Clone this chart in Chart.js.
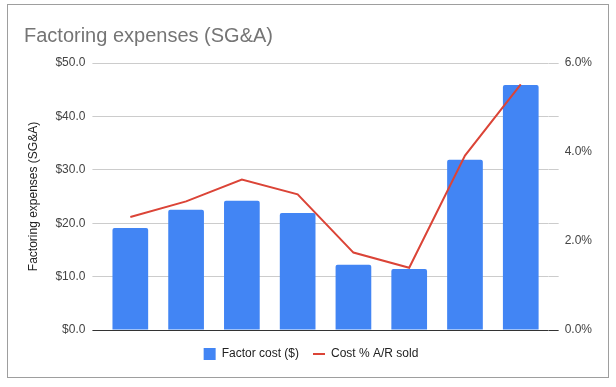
<!doctype html>
<html>

<head>
    <title>Factoring expenses (SG&amp;A)</title>
    <script src="https://cdn.jsdelivr.net/npm/chart.js@4/dist/chart.umd.min.js"></script>
    <style>
    body {
        margin: 0;
        background: #fff;
    }
    #wrap {
        position: relative;
        width: 616px;
        height: 387px;
    }
    #frame {
        position: absolute;
        left: 7px;
        top: 4px;
        width: 602px;
        height: 374px;
        box-sizing: border-box;
        border: 1px solid #9e9e9e;
        pointer-events: none;
    }
    </style>
</head>

<body>
    <div id="wrap">
        <canvas id="canvas" width="616" height="387"></canvas>
        <div id="frame"></div>
    </div>
    <script>
    // x labels are hidden in the chart
    var periods = ['P1', 'P2', 'P3', 'P4', 'P5', 'P6', 'P7', 'P8'];
    var factorCost = [19.1, 22.5, 24.2, 21.9, 12.2, 11.4, 31.9, 45.9];
    var costPctSold = [2.54, 2.89, 3.38, 3.05, 1.74, 1.40, 3.92, 5.52];
    var dollarTicks = [0, 10, 20, 30, 40, 50];
    var pctTicks = [0, 2, 4, 6];

    Chart.defaults.font.family = 'Arial, "Liberation Sans", sans-serif';

    var gridColor = function(ctx) {
        return ctx.tick && ctx.tick.value === 0 ? '#333333' : '#cccccc';
    };
    var setTicks = function(list) {
        return function(axis) {
            axis.ticks = list.map(function(v) { return {value: v}; });
        };
    };

    var config = {
        type: 'bar',
        data: {
            labels: periods,
            datasets: [{
                type: 'bar',
                label: 'Factor cost ($)',
                data: factorCost,
                yAxisID: 'y',
                order: 1,
                backgroundColor: '#4285f4',
                borderWidth: 0,
                borderRadius: {topLeft: 2, topRight: 2},
                borderSkipped: 'bottom',
                barPercentage: 0.64,
                categoryPercentage: 1,
                pointStyle: 'rect'
            }, {
                type: 'line',
                label: 'Cost % A/R sold',
                data: costPctSold,
                yAxisID: 'y1',
                order: 0,
                borderColor: '#db4437',
                backgroundColor: '#db4437',
                borderWidth: 2,
                pointRadius: 0,
                tension: 0,
                fill: false,
                pointStyle: 'line'
            }]
        },
        options: {
            responsive: false,
            animation: false,
            layout: {
                padding: {left: 24, right: 18, top: 11, bottom: 17}
            },
            plugins: {
                title: {
                    display: true,
                    text: 'Factoring expenses (SG&A)',
                    align: 'start',
                    color: '#757575',
                    font: {size: 20, weight: 'normal'},
                    padding: {top: 13, bottom: 15}
                },
                legend: {
                    position: 'bottom',
                    labels: {
                        usePointStyle: true,
                        pointStyleWidth: 12,
                        boxHeight: 12,
                        color: '#222222',
                        font: {size: 12},
                        padding: 14,
                        sort: function(a, b) { return a.datasetIndex - b.datasetIndex; }
                    }
                },
                tooltip: {enabled: false}
            },
            scales: {
                x: {
                    grid: {display: false, drawTicks: false},
                    border: {display: false},
                    ticks: {display: false},
                    afterFit: function(axis) { axis.height += 4; }
                },
                y: {
                    position: 'left',
                    min: dollarTicks[0],
                    max: dollarTicks[dollarTicks.length - 1],
                    afterBuildTicks: setTicks(dollarTicks),
                    grid: {color: gridColor, tickLength: 10},
                    border: {display: false},
                    ticks: {
                        padding: 7,
                        color: '#444444',
                        font: {size: 12},
                        callback: function(v) { return '$' + v.toFixed(1); }
                    },
                    title: {
                        display: true,
                        text: 'Factoring expenses (SG&A)',
                        color: '#222222',
                        font: {size: 12},
                        padding: {top: 2, bottom: 8}
                    }
                },
                yGrid: {
                    position: 'right',
                    weight: 0,
                    min: dollarTicks[0],
                    max: dollarTicks[dollarTicks.length - 1],
                    afterBuildTicks: setTicks(dollarTicks),
                    grid: {color: gridColor, tickLength: 10, drawOnChartArea: false},
                    border: {display: false},
                    ticks: {display: false}
                },
                y1: {
                    position: 'right',
                    weight: 1,
                    min: pctTicks[0],
                    max: pctTicks[pctTicks.length - 1],
                    afterBuildTicks: setTicks(pctTicks),
                    grid: {display: false, drawTicks: false},
                    border: {display: false},
                    ticks: {
                        padding: 6,
                        color: '#444444',
                        font: {size: 12},
                        callback: function(v) { return v.toFixed(1) + '%'; }
                    }
                }
            }
        }
    };

    window.onload = function() {
        window.myChart = new Chart(document.getElementById('canvas'), config);
    };
    </script>
</body>

</html>
